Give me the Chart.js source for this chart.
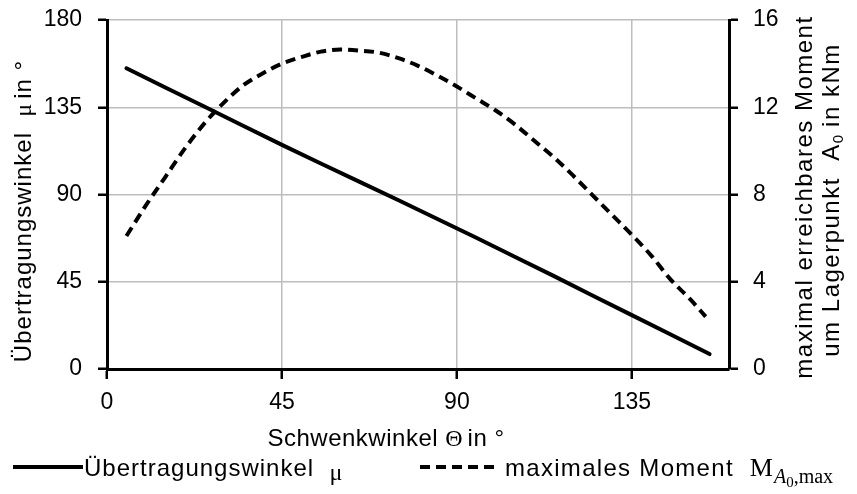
<!DOCTYPE html>
<html>
<head>
<meta charset="utf-8">
<script src="https://cdn.jsdelivr.net/npm/chart.js@4.4.1/dist/chart.umd.min.js"></script>
<style>
  html, body { margin: 0; padding: 0; background: #fff; }
</style>
</head>
<body>
<canvas id="chart" width="857" height="494"></canvas>
<script>
// Schwenkwinkel (x) and Übertragungswinkel (left axis)
const thetaMu = [5, 15, 25, 35, 45, 55, 65, 75, 85, 95, 105, 115, 125, 135, 145, 155];
const mu = [155.1, 145.2, 135.4, 125.5, 115.6, 106.0, 96.5, 87.0, 77.4, 67.7, 57.8, 47.9, 37.8, 27.8, 17.8, 7.7];

// maximales Moment (right axis, kNm)
const thetaM = [5, 10, 15, 20, 25, 30, 35, 40, 45, 50, 55, 60, 65, 70, 75, 80, 85, 90, 95, 100, 105, 110, 115, 120, 125, 130, 135, 140, 145, 150, 154];
const moment = [6.1, 7.5, 8.8, 10.1, 11.25, 12.2, 13.0, 13.55, 14.0, 14.3, 14.55, 14.65, 14.6, 14.5, 14.25, 13.9, 13.45, 12.95, 12.4, 11.85, 11.2, 10.45, 9.7, 8.85, 7.95, 7.05, 6.15, 5.2, 4.1, 3.2, 2.4];

const xTicks = [0, 45, 90, 135];
const yTicks = [0, 45, 90, 135, 180];
const y1Ticks = [0, 4, 8, 12, 16];

const FAMILY = '"Liberation Sans", Arial, sans-serif';
const SANS = '24px ' + FAMILY;
const SERIF = '24px "Liberation Serif", "Times New Roman", serif';

// draw a row of text pieces with mixed fonts, origin = baseline
function drawRuns(ctx, runs, x, y, align, rotate) {
    ctx.save();
    ctx.translate(x, y);
    if (rotate) ctx.rotate(-Math.PI / 2);
    ctx.fillStyle = '#000';
    ctx.textBaseline = 'alphabetic';
    ctx.textAlign = 'left';
    let total = 0;
    runs.forEach(r => {
        ctx.font = r.font;
        ctx.letterSpacing = r.spacing || '0px';
        total += ctx.measureText(r.text).width + (r.gap || 0);
    });
    let cx = align === 'center' ? -total / 2 : 0;
    runs.forEach(r => {
        ctx.font = r.font;
        ctx.letterSpacing = r.spacing || '0px';
        ctx.fillText(r.text, cx, r.dy || 0);
        cx += ctx.measureText(r.text).width + (r.gap || 0);
    });
    ctx.restore();
}

const textPlugin = {
    id: 'texts',
    afterDraw(chart) {
        const ctx = chart.ctx;
        const ds = chart.data.datasets;

        // left axis title
        drawRuns(ctx, [
            { text: 'Übertragungswinkel  ', font: SANS, spacing: '1px' },
            { text: 'μ', font: SERIF, gap: 5 },
            { text: 'in °', font: SANS, spacing: '1px' }
        ], 31, 211, 'center', true);

        // x axis title
        drawRuns(ctx, [
            { text: 'Schwenkwinkel ', font: SANS, spacing: '0.5px' },
            { text: 'Θ', font: SERIF, gap: 5 },
            { text: 'in °', font: SANS, spacing: '0.5px' }
        ], 386, 446, 'center', false);

        // right axis title, two lines
        drawRuns(ctx, [
            { text: 'maximal erreichbares Moment', font: SANS, spacing: '1.5px' }
        ], 812, 197, 'center', true);
        drawRuns(ctx, [
            { text: 'um Lagerpunkt  A', font: SANS, spacing: '1.5px' },
            { text: '0', font: '15px ' + FAMILY, dy: 4, gap: 8 },
            { text: 'in kNm', font: SANS, spacing: '1.5px' }
        ], 839, 200, 'center', true);

        // legend
        const ly = 467;
        [[13, 83, 0], [420, 500, 1]].forEach(([x0, x1, i]) => {
            ctx.save();
            ctx.strokeStyle = ds[i].borderColor;
            ctx.lineWidth = ds[i].borderWidth;
            ctx.setLineDash(ds[i].borderDash || []);
            ctx.beginPath();
            ctx.moveTo(x0, ly);
            ctx.lineTo(x1, ly);
            ctx.stroke();
            ctx.restore();
        });
        drawRuns(ctx, [
            { text: 'Übertragungswinkel  ', font: SANS, spacing: '1px' },
            { text: 'μ', font: SERIF, dy: 4 }
        ], 84, ly + 9, 'left', false);
        drawRuns(ctx, [
            { text: 'maximales Moment  ', font: SANS, spacing: '1.3px' },
            { text: 'M', font: '26px "Liberation Serif", serif', gap: 1 },
            { text: 'A', font: 'italic 20px "Liberation Serif", serif', dy: 7 },
            { text: '0', font: '15px "Liberation Serif", serif', dy: 11 },
            { text: ',max', font: '20px "Liberation Serif", serif', dy: 7 }
        ], 505, ly + 9, 'left', false);
    }
};

const gridStyle = {
    color: '#bdbdbd',
    lineWidth: 1.5,
    tickColor: '#000',
    tickWidth: 2.5,
    tickLength: 9
};
const tickFont = { family: FAMILY, size: 23 };

// fixed axis sizes so the plot area sits where it does in the original
function fixY(width) {
    return ax => {
        ax.width = width;
        ax.paddingTop = 8;
        ax.paddingBottom = 8;
    };
}

new Chart(document.getElementById('chart'), {
    type: 'line',
    data: {
        datasets: [{
            label: 'Übertragungswinkel μ',
            data: thetaMu.map((t, i) => ({ x: t, y: mu[i] })),
            borderColor: '#000',
            borderWidth: 4,
            borderCapStyle: 'round',
            tension: 0,
            yAxisID: 'y'
        }, {
            label: 'maximales Moment M A0,max',
            data: thetaM.map((t, i) => ({ x: t, y: moment[i] })),
            borderColor: '#000',
            borderWidth: 4,
            borderDash: [10, 6],
            cubicInterpolationMode: 'monotone',
            yAxisID: 'y1'
        }]
    },
    options: {
        responsive: false,
        animation: false,
        layout: { padding: { top: 20, left: 0, right: 0, bottom: 0 } },
        elements: { point: { radius: 0 } },
        plugins: { legend: { display: false }, tooltip: { enabled: false } },
        scales: {
            x: {
                type: 'linear',
                min: 0,
                max: 160,
                afterBuildTicks: ax => { ax.ticks = xTicks.map(v => ({ value: v })); },
                afterFit: ax => { ax.height = 125; },
                grid: { ...gridStyle, tickLength: 10 },
                border: { color: '#000', width: 3 },
                ticks: { color: '#000', padding: 10, maxRotation: 0, font: tickFont }
            },
            y: {
                position: 'left',
                min: 0,
                max: 180,
                afterBuildTicks: ax => { ax.ticks = yTicks.map(v => ({ value: v })); },
                afterFit: fixY(107),
                grid: gridStyle,
                border: { color: '#000', width: 3 },
                ticks: { color: '#000', padding: 16, font: tickFont }
            },
            y1: {
                position: 'right',
                min: 0,
                max: 16,
                afterBuildTicks: ax => { ax.ticks = y1Ticks.map(v => ({ value: v })); },
                afterFit: fixY(128),
                grid: { ...gridStyle, drawOnChartArea: false },
                border: { color: '#000', width: 3 },
                ticks: { color: '#000', padding: 15, font: tickFont }
            }
        }
    },
    plugins: [textPlugin]
});
</script>
</body>
</html>
